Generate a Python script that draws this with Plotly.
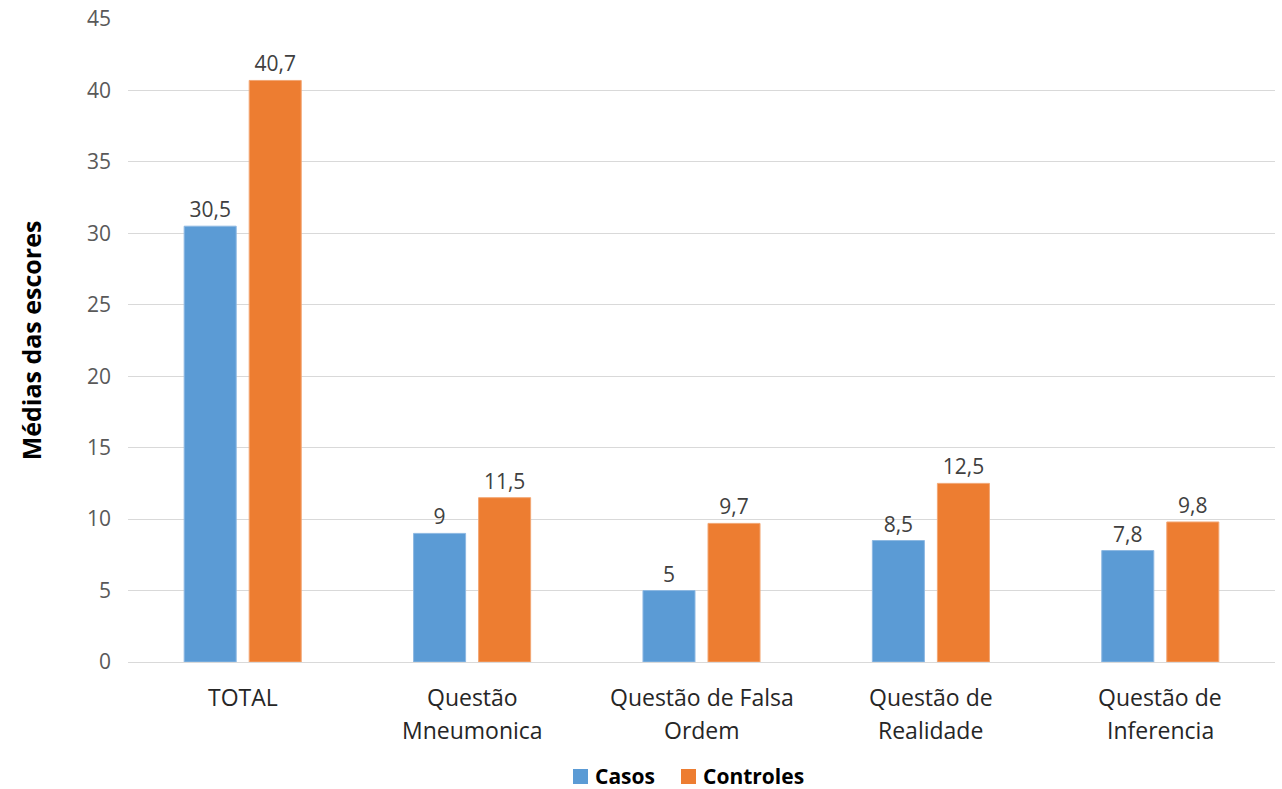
import plotly.graph_objects as go

categories = ["TOTAL", "Questão<br>Mneumonica", "Questão de Falsa<br>Ordem",
              "Questão de<br>Realidade", "Questão de<br>Inferencia"]
casos = [30.5, 9, 5, 8.5, 7.8]
controles = [40.7, 11.5, 9.7, 12.5, 9.8]
y_ticks = [0, 5, 10, 15, 20, 25, 30, 35, 40, 45]
series = [("Casos", casos, "#5B9BD5", "#8DB8E2"),
          ("Controles", controles, "#ED7D31", "#F2A673")]

FONT = "Open Sans"
W, H = 1282, 789
ML, MR, MT, MB = 128, 7, 19, 127


def px_x(px):
    return (px - ML) / (W - ML - MR)


def px_y(py):
    return (H - MB - py) / (H - MT - MB)


fig = go.Figure()
for name, vals, color, edge in series:
    fig.add_trace(go.Bar(
        name=name, x=categories, y=vals, marker_color=color,
        marker_line=dict(color=edge, width=1),
        texttemplate="%{y}", textposition="outside", cliponaxis=False,
        textfont=dict(family=FONT, size=21, color="#404040"),
        showlegend=False,
    ))

# Category labels drawn line by line for wider line spacing
annotations = []
for cat in categories:
    for i, line in enumerate(cat.split("<br>")):
        annotations.append(dict(
            x=cat, y=0, xref="x", yref="y", text=line, showarrow=False,
            yanchor="middle", yshift=-(35 + 33 * i),
            font=dict(family=FONT, size=23, color="#262626"),
        ))

# Legend along the bottom edge: colour key squares followed by bold labels
shapes = []
legend_x = [573, 681]
for (name, _, color, _), lx in zip(series, legend_x):
    shapes.append(dict(
        type="rect", xref="paper", yref="paper",
        x0=px_x(lx), x1=px_x(lx + 15), y0=px_y(784), y1=px_y(769),
        fillcolor=color, line=dict(width=0),
    ))
    annotations.append(dict(
        x=px_x(lx + 20), y=px_y(776), xref="paper", yref="paper",
        xanchor="left", yanchor="middle", text=f"<b>{name}</b>",
        height=24, valign="middle",
        showarrow=False, font=dict(family=FONT, size=21, color="#000000"),
    ))

fig.update_layout(
    width=W, height=H,
    margin=dict(l=ML, r=MR, t=MT, b=MB),
    paper_bgcolor="white", plot_bgcolor="white",
    separators=",.",
    barmode="group", bargap=0.433, bargroupgap=0.2,
    font=dict(family=FONT, color="#404040"),
    annotations=annotations,
    shapes=shapes,
    xaxis=dict(
        showgrid=False, showline=True, linecolor="#d9d9d9", linewidth=1,
        showticklabels=False, automargin=False,
    ),
    yaxis=dict(
        range=[0, 45], tickvals=y_ticks, showgrid=True,
        gridcolor="#d9d9d9", gridwidth=1, zeroline=False,
        tickfont=dict(family=FONT, size=21, color="#595959"),
        ticklabelstandoff=16, automargin=False,
        title=dict(text="<b>Médias das escores</b>", standoff=38,
                   font=dict(family=FONT, size=25, color="#000000")),
    ),
)

fig.write_html("out.html")
